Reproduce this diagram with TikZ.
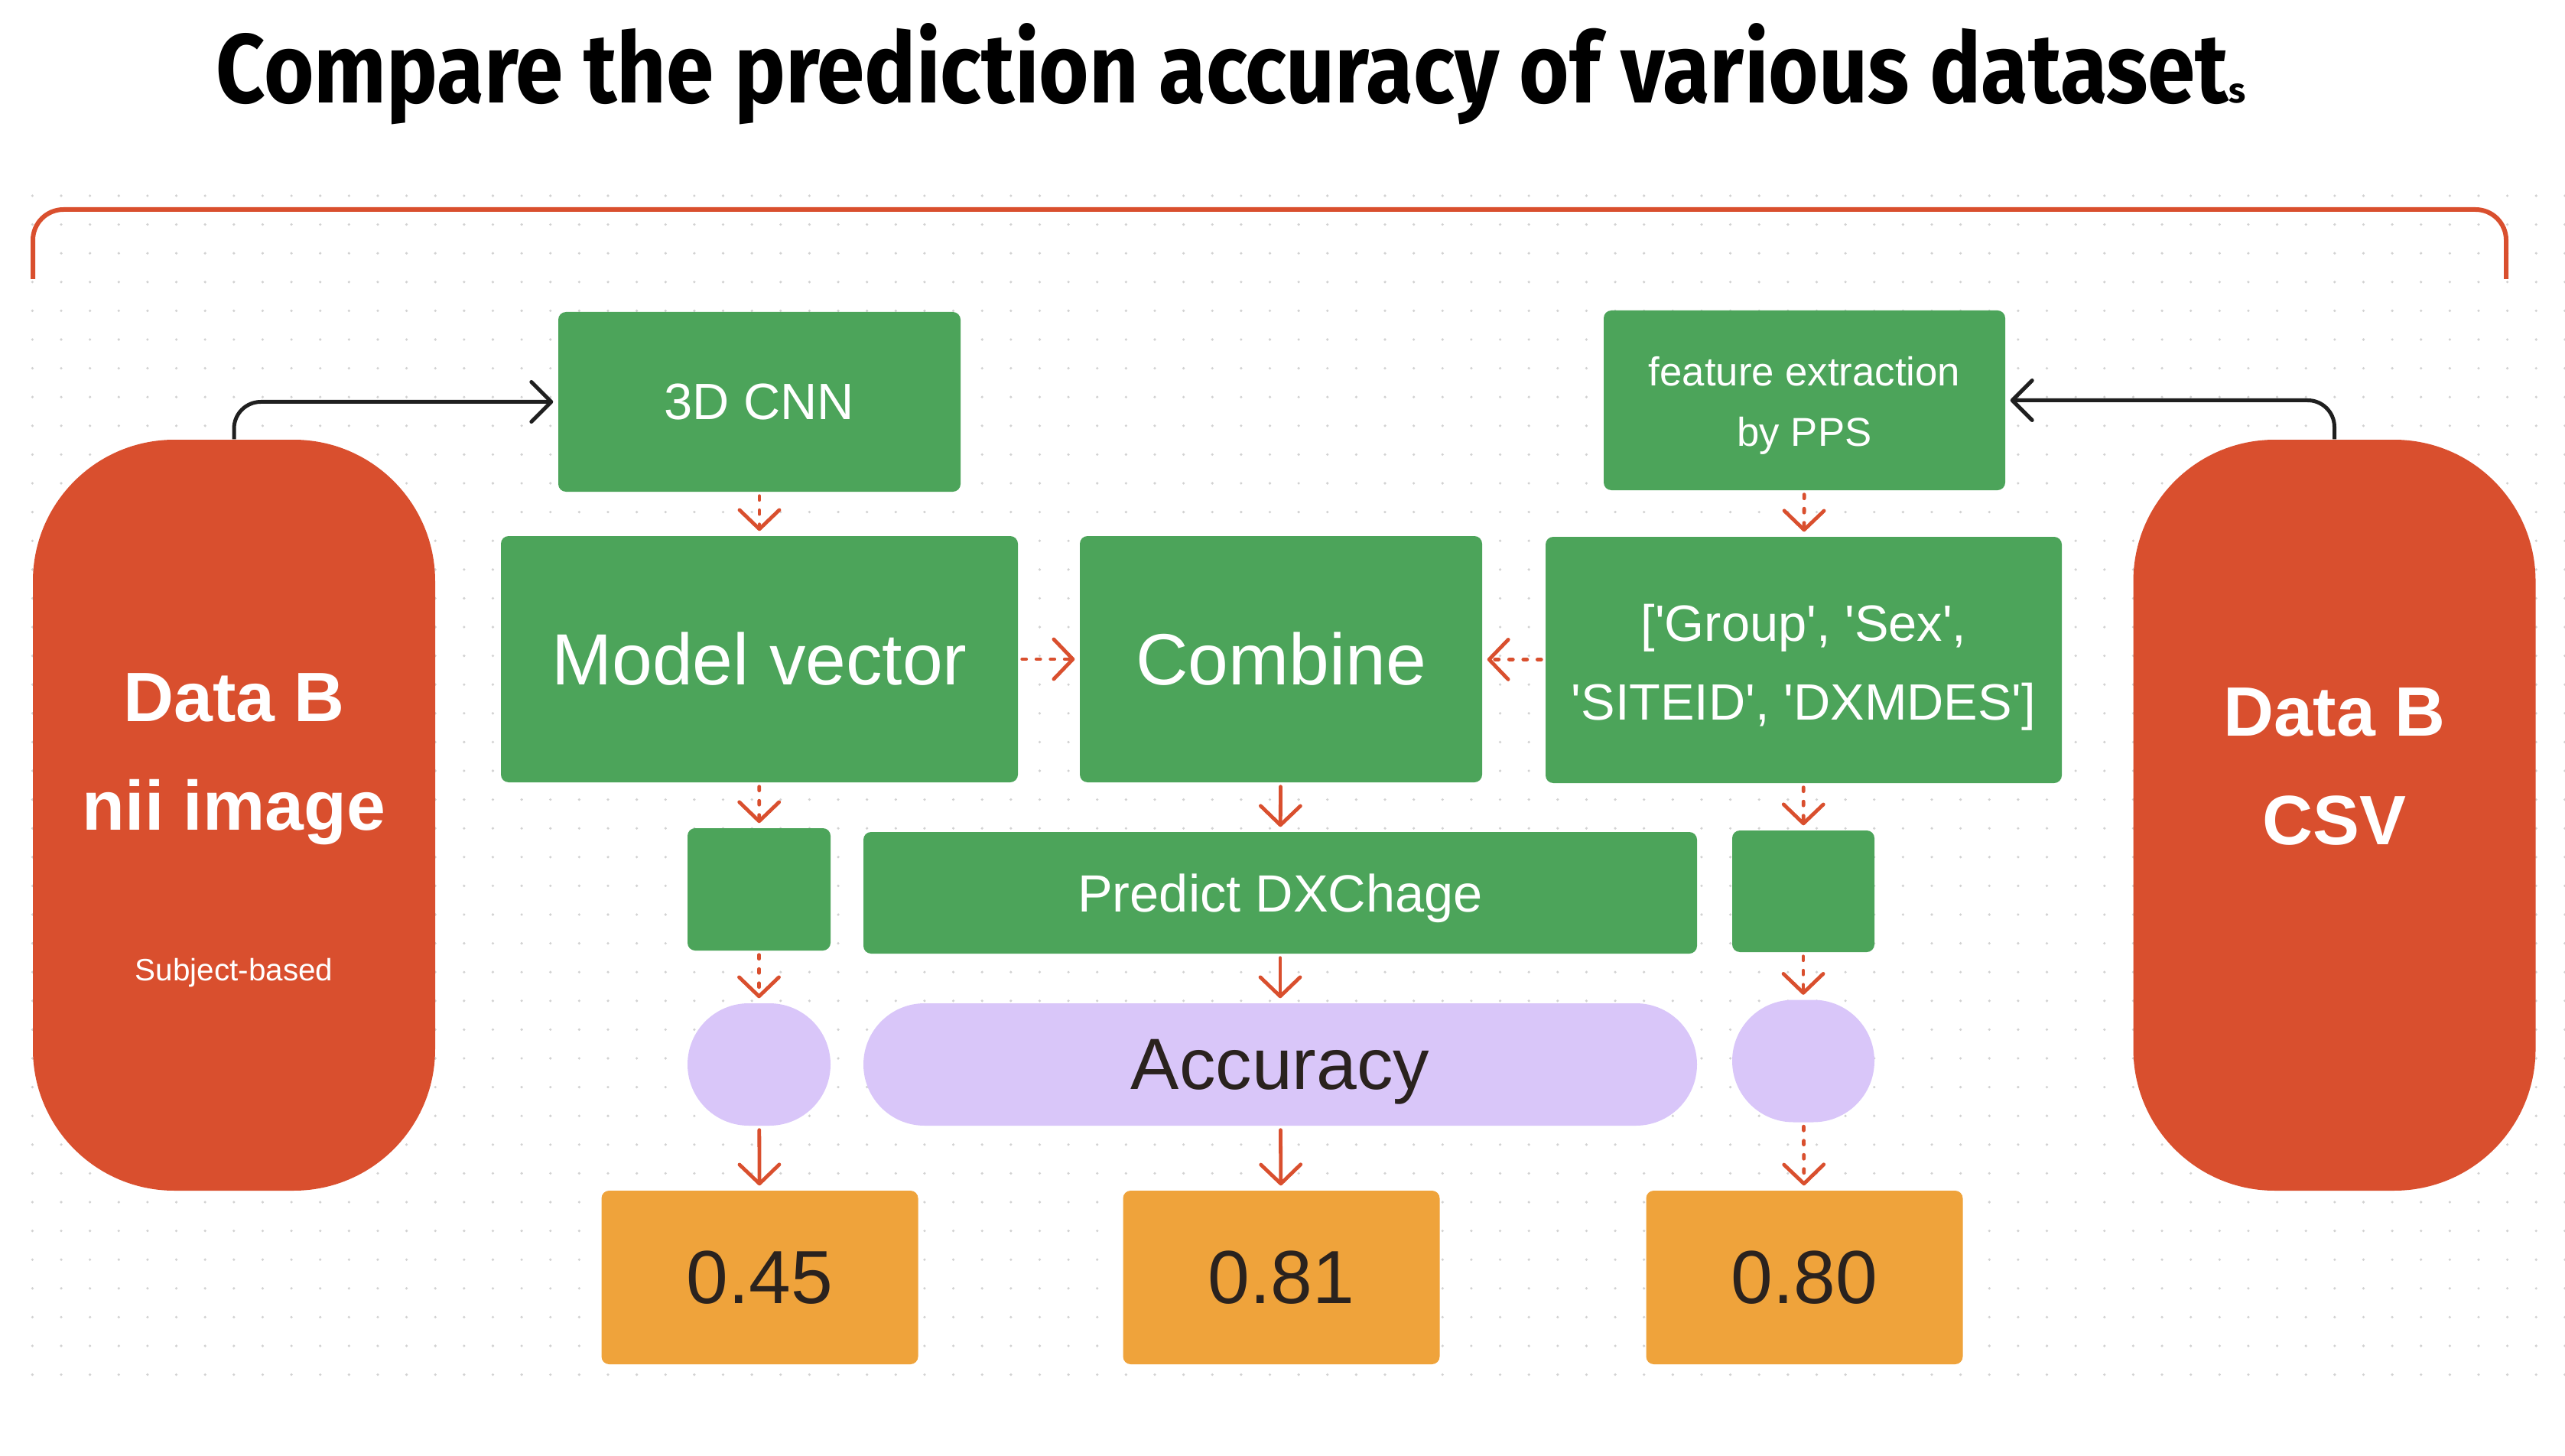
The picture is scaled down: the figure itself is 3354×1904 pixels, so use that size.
\documentclass[tikz,border=0pt]{standalone}
\usepackage{fontspec}
\usepackage{graphicx}
\setmainfont{Liberation Sans}
\newfontfamily\titlefont{Fira Sans}
\usetikzlibrary{arrows.meta}

\definecolor{boxgreen}{HTML}{4CA45A}
\definecolor{datared}{HTML}{D94F2E}
\definecolor{accpurple}{HTML}{D9C6F9}
\definecolor{scoreorange}{HTML}{EFA33B}
\definecolor{inkdark}{HTML}{2A221E}
\definecolor{dotgray}{HTML}{D2D2D2}

\begin{document}
\begin{tikzpicture}[x=0.1mm, y=-0.1mm,
  stage/.style={fill=boxgreen, rounded corners=1mm, text=white, align=center, inner sep=0pt},
  pill/.style={fill=datared, rounded corners=18.5mm, text=white, align=center, inner sep=0pt, minimum width=52.6mm, minimum height=98.2mm, font=\bfseries\fontsize{26}{40.4}\selectfont},
  metric/.style={fill=accpurple, rounded corners=8mm, text=inkdark, inner sep=0pt, minimum height=16mm},
  score/.style={fill=scoreorange, rounded corners=1mm, text=inkdark, inner sep=0pt, minimum width=41.4mm, minimum height=22.7mm, font=\fontsize{28}{30}\selectfont},
  arr/.style={draw=datared, line width=0.48mm, line cap=round, -{Straight Barb[length=2.5mm, width=5.2mm, round]}, shorten <=0.5mm, shorten >=0.6mm},
  dasharr/.style={arr, dash pattern=on 0.5mm off 1.35mm},
  link/.style={draw=black!88, line width=0.5mm, rounded corners=3.5mm, -{Straight Barb[length=2.6mm, width=5.2mm, round]}, shorten >=0.6mm}
]
\useasboundingbox (0,0) rectangle (3354,1904);

% dotted canvas
\foreach \i in {0,...,88}
  \foreach \j in {0,...,41}
    \fill[dotgray] (42.4+37.63*\i, 256+37.6*\j) circle (0.18mm);

\node[anchor=base west, inner sep=0pt] (title) at (282,135) {\titlefont\bfseries\resizebox{263.1mm}{10.4mm}{Compare the prediction accuracy of various dataset}\fontsize{13}{13}\selectfont s};

\draw[datared, line width=0.6mm, rounded corners=4mm] (43,365) -- (43,274) -- (3277,274) -- (3277,365);

% datasets
\node[pill, text height=43.2mm, text depth=0pt] (nii) at (306,1066) {Data B\\nii image\\[5.5mm]{\mdseries\fontsize{11.5}{14}\selectfont Subject-based}};
\node[pill, text height=7.6mm, text depth=0pt] (csv) at (3052.5,1066) {Data B\\CSV};

% pipeline
\node[stage, minimum width=52.6mm, minimum height=23.5mm, font=\fontsize{19}{22}\selectfont] (cnn) at (993,525.5) {3D CNN};
\node[stage, minimum width=52.5mm, minimum height=23.5mm, font=\fontsize{15}{22.2}\selectfont, text height=11.9mm, text depth=0pt] (pps) at (2359.5,523.5) {feature extraction\\by PPS};
\node[stage, minimum width=67.6mm, minimum height=32.2mm, font=\fontsize{27}{30}\selectfont] (vec) at (993,862) {Model vector};
\node[stage, minimum width=52.6mm, minimum height=32.2mm, font=\fontsize{27}{30}\selectfont] (comb) at (1675,862) {Combine};
\node[stage, minimum width=67.5mm, minimum height=32.2mm, font=\fontsize{19}{29.2}\selectfont, text height=15.7mm, text depth=0pt] (cols) at (2358.5,863) {[\textquotesingle Group\textquotesingle, \textquotesingle Sex\textquotesingle,\\\textquotesingle SITEID\textquotesingle, \textquotesingle DXMDES\textquotesingle]};

\node[stage, minimum width=18.7mm, minimum height=16mm] (gL) at (992.5,1163) {};
\node[stage, minimum width=109mm, minimum height=15.9mm, font=\fontsize{19.5}{22}\selectfont, text depth=0pt] (pred) at (1674,1167.5) {Predict DXChage};
\node[stage, minimum width=18.6mm, minimum height=15.9mm] (gR) at (2358,1165.5) {};

\node[metric, minimum width=18.7mm] (aL) at (992.5,1392) {};
\node[metric, minimum width=109mm, font=\fontsize{27}{30}\selectfont, text depth=0pt] (acc) at (1674,1392) {Accuracy};
\node[metric, minimum width=18.6mm] (aR) at (2358,1387.5) {};

\node[score] (r1) at (993.5,1670.5) {0.45};
\node[score] (r2) at (1675.5,1670.5) {0.81};
\node[score] (r3) at (2359.5,1670.5) {0.80};

% connectors
\draw[link] (nii.north) |- (cnn.west);
\draw[link] (csv.north) |- (pps.east);

\draw[dasharr] (cnn) -- (vec);
\draw[dasharr] (vec) -- (gL);
\draw[dasharr] (gL) -- (aL);
\draw[arr] (aL) -- (r1);

\draw[dasharr] (vec) -- (comb);
\draw[dasharr] (cols) -- (comb);
\draw[arr] (comb) -- (pred);
\draw[arr] (pred) -- (acc);
\draw[arr] (acc) -- (r2);

\draw[dasharr] (pps) -- (cols);
\draw[dasharr] (cols) -- (gR);
\draw[dasharr] (gR) -- (aR);
\draw[dasharr] (aR) -- (r3);

\end{tikzpicture}
\end{document}
